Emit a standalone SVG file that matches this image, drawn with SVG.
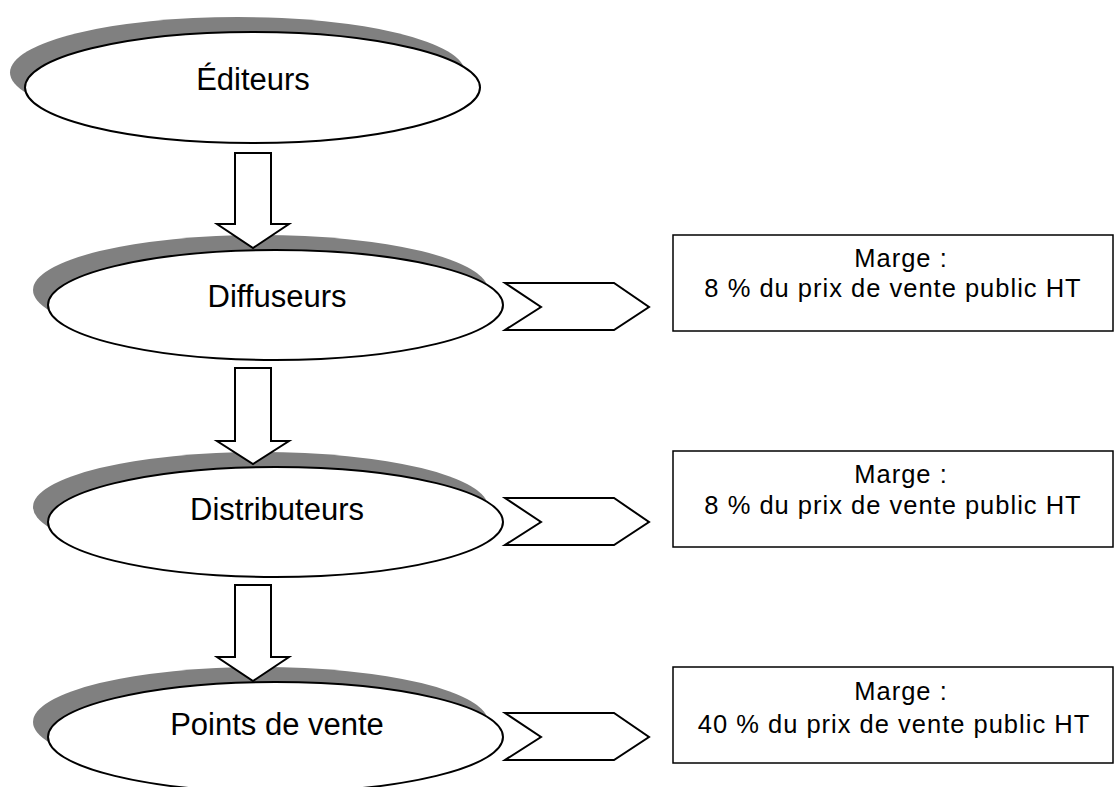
<svg xmlns="http://www.w3.org/2000/svg" width="1116" height="787" viewBox="0 0 1116 787">
<style>
.bg{fill:#ffffff}
.shadow{fill:#808080;stroke:none}
.oval{fill:#ffffff;stroke:#000000;stroke-width:2}
.lbl{font-family:"Liberation Sans",Arial,sans-serif;font-size:31px;fill:#000000;text-anchor:middle}
.box{fill:#ffffff;stroke:#000000;stroke-width:1.5}
.btxt{font-family:"Liberation Sans",Arial,sans-serif;font-size:25.5px;fill:#000000;text-anchor:middle;letter-spacing:1px}
.arrow{fill:#ffffff;stroke:#000000;stroke-width:2;stroke-linejoin:miter}
</style>
<rect class="bg" x="0" y="0" width="1116" height="787"/>

<g id="node-editeurs">
<ellipse class="shadow" cx="237.5" cy="72.5" rx="227.5" ry="55.5"/>
<ellipse class="oval" cx="252.5" cy="87.5" rx="227.5" ry="55.5"/>
<text class="lbl" x="253" y="90">Éditeurs</text>
</g>

<g id="node-diffuseurs">
<ellipse class="shadow" cx="260.5" cy="290" rx="227.5" ry="55"/>
<ellipse class="oval" cx="275.5" cy="305" rx="227.5" ry="55"/>
<text class="lbl" x="277" y="307">Diffuseurs</text>
</g>

<g id="node-distributeurs">
<ellipse class="shadow" cx="260.5" cy="507" rx="227.5" ry="55"/>
<ellipse class="oval" cx="275.5" cy="522" rx="227.5" ry="55"/>
<text class="lbl" x="277" y="520">Distributeurs</text>
</g>

<g id="node-points-de-vente">
<ellipse class="shadow" cx="260.5" cy="722" rx="227.5" ry="55"/>
<ellipse class="oval" cx="275.5" cy="737" rx="227.5" ry="55"/>
<text class="lbl" x="277" y="735">Points de vente</text>
</g>

<g id="node-marge-diffuseurs">
<rect class="box" x="673" y="235" width="440" height="96"/>
<text class="btxt" x="901" y="267">Marge :</text>
<text class="btxt" x="893" y="297">8 % du prix de vente public HT</text>
</g>

<g id="node-marge-distributeurs">
<rect class="box" x="673" y="451" width="440" height="96"/>
<text class="btxt" x="901" y="483">Marge :</text>
<text class="btxt" x="893" y="514">8 % du prix de vente public HT</text>
</g>

<g id="node-marge-points-de-vente">
<rect class="box" x="673" y="667" width="440" height="96"/>
<text class="btxt" x="901" y="700">Marge :</text>
<text class="btxt" x="894" y="733">40 % du prix de vente public HT</text>
</g>

<g id="connectors">
<polygon class="arrow" points="235,153 271,153 271,224 289,224 253,248 217,224 235,224"/>
<polygon class="arrow" points="235,368 271,368 271,441 289,441 253,464 217,441 235,441"/>
<polygon class="arrow" points="235,585 271,585 271,657 289,657 253,681 217,657 235,657"/>
<polygon class="arrow" points="505,283 614,283 649,307 614,330 505,330 541,307"/>
<polygon class="arrow" points="505,498 614,498 649,522 614,545 505,545 541,522"/>
<polygon class="arrow" points="505,713 614,713 649,737 614,760 505,760 541,737"/>
</g>
</svg>
